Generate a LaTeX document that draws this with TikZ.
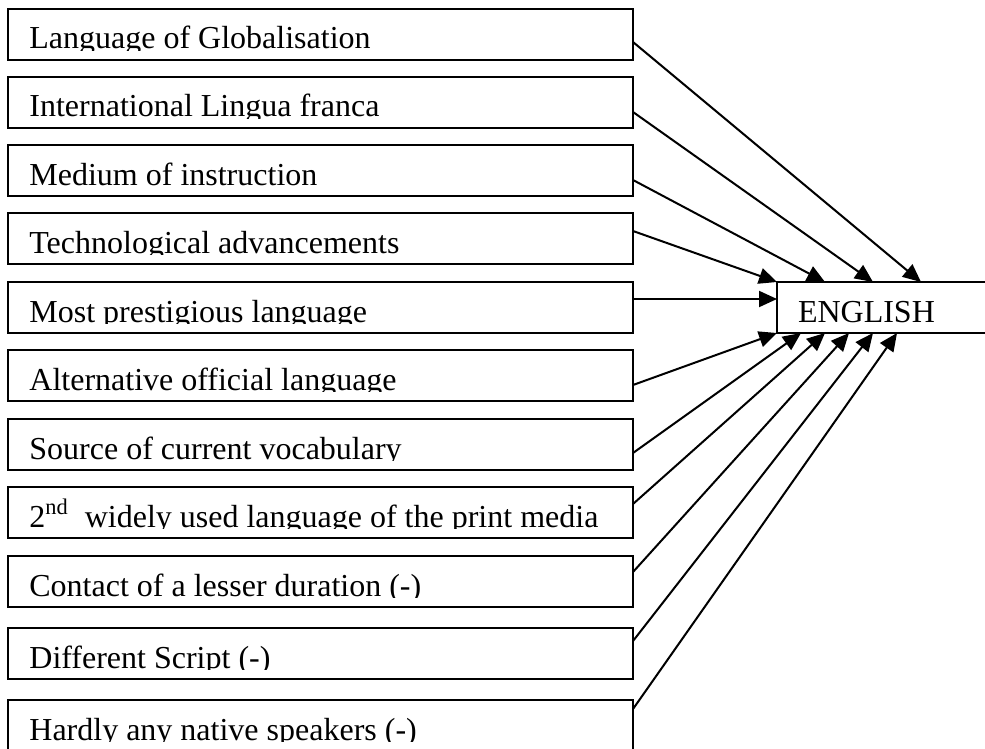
\documentclass[tikz,border=0pt]{standalone}
\usepackage{fontspec}
\setmainfont{Liberation Serif}
\usetikzlibrary{arrows.meta}

\tikzset{
  factor/.style={draw, line width=1pt, anchor=north west, outer sep=0pt, inner sep=0pt,
    minimum width=312.5pt, minimum height=25.5pt},
  lbl/.style={anchor=base west, inner sep=0pt, font=\fontsize{16}{19}\selectfont},
  engbox/.style={draw, line width=1pt, anchor=north west, outer sep=0pt, inner xsep=10.5pt,
    inner ysep=0pt, text width=200pt, text height=20pt, text depth=5.5pt, align=left,
    font=\fontsize{16}{19}\selectfont},
  feed/.style={line width=1pt, -{Triangle[length=9pt,width=8pt]}}
}

\begin{document}
\begin{tikzpicture}[x=0.5pt,y=-0.5pt]
	\useasboundingbox (0,0) rectangle (985,749);
	\clip (0,0) rectangle (985,749);

	% factor boxes, text cut just under the baseline
	\foreach \i/\y/\txt in {1/9/{Language of Globalisation},
			2/77/{International Lingua franca},
			3/145/{Medium of instruction},
			4/213/{Technological advancements},
			5/282/{Most prestigious language},
			6/350/{Alternative official language},
			7/419/{Source of current vocabulary},
			8/487/{2\textsuperscript{nd}~ widely used language of the print media},
			9/556/{Contact of a lesser duration (-)},
			10/628/{Different Script (-)},
			11/700/{Hardly any native speakers (-)}}{
		\node[factor] (f\i) at (8,\y) {};
		\begin{scope}
			\clip (f\i.north west) rectangle ([yshift=-20.75pt]f\i.north east);
			\node[lbl] (t\i) at ([xshift=10.5pt,yshift=-20pt]f\i.north west) {\txt};
		\end{scope}
	}

	\node[engbox] (eng) at (777,282) {ENGLISH};

	\foreach \i/\dy/\dx/\ty in {1/16.5/72/0, 2/17.5/48/0, 3/17.5/24/0, 4/9/0/0,
			5/8.5/0/8.5, 6/17.5/0/25.5, 7/17/12/25.5, 8/8.5/24/25.5,
			9/8/36/25.5, 10/6.5/48/25.5, 11/4.5/60/25.5}
		\draw[feed] ([yshift=-\dy pt]f\i.north east) -- ([xshift=\dx pt,yshift=-\ty pt]eng.north west);
\end{tikzpicture}
\end{document}
